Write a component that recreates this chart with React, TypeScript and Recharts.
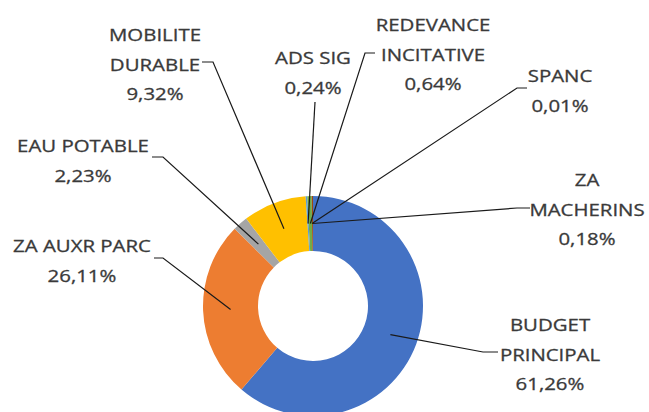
import React from "react";
import { PieChart, Pie, Cell } from "recharts";

const categories = [
  "BUDGET PRINCIPAL",
  "ZA AUXR PARC",
  "EAU POTABLE",
  "MOBILITE DURABLE",
  "ADS SIG",
  "REDEVANCE INCITATIVE",
  "SPANC",
  "ZA MACHERINS",
];
const shares = [61.26, 26.11, 2.23, 9.32, 0.24, 0.64, 0.01, 0.18];
const colors = ["#4472C4", "#ED7D31", "#A5A5A5", "#FFC000", "#5B9BD5", "#70AD47", "#264478", "#9E480E"];

// label layout: text centre x, first baseline y, wrap into words, leader elbow & end
const labelLayout = [
  { x: 550, y: 331, wrap: true, elbow: [483, 352], end: [498, 352] },
  { x: 82, y: 252, wrap: false, elbow: [163, 258], end: [154, 258] },
  { x: 83, y: 152, wrap: false, elbow: [163, 157], end: [152, 157] },
  { x: 155, y: 41, wrap: true, elbow: [213, 62], end: [202, 62] },
  { x: 313, y: 64, wrap: false, elbow: [315, 102], end: [315, 102] },
  { x: 433, y: 31, wrap: true, elbow: [365, 53], end: [375, 53] },
  { x: 560, y: 82, wrap: false, elbow: [517, 88], end: [527, 88] },
  { x: 587, y: 186, wrap: true, elbow: [517, 208], end: [530, 208] },
];

const data = categories.map((name, i) => ({ name, value: shares[i] }));

const RAD = Math.PI / 180;
const LINE_GAP = 29.5;
const FONT = "'Open Sans', sans-serif";

const fmt = (v: number) => v.toFixed(2).replace(".", ",") + "%";

const renderLabel = (props: any) => {
  const { cx, cy, midAngle, innerRadius, outerRadius, index } = props;
  const lay = labelLayout[index];
  const r = (innerRadius + outerRadius) / 2;
  const sx = cx + r * Math.cos(-midAngle * RAD);
  const sy = cy + r * Math.sin(-midAngle * RAD);
  const name = categories[index];
  const lines = lay.wrap ? name.split(" ") : [name];
  lines.push(fmt(shares[index]));
  return (
    <g key={`lbl-${index}`}>
      <polyline
        points={`${sx},${sy} ${lay.elbow[0]},${lay.elbow[1]} ${lay.end[0]},${lay.end[1]}`}
        fill="none"
        stroke="#1a1a1a"
        strokeWidth={1.2}
      />
      {lines.map((t, k) => (
        <text
          key={k}
          transform={`translate(${lay.x} ${lay.y + k * LINE_GAP}) scale(1.2 1)`}
          x={0}
          y={0}
          textAnchor="middle"
          fontFamily={FONT}
          fontSize={17}
          fill="#3a3a3a"
          stroke="#3a3a3a"
          strokeWidth={0.3}
        >
          {t}
        </text>
      ))}
    </g>
  );
};

export default function App() {
  return (
    <div style={{ position: "absolute", left: 0, top: 0, width: 649, height: 412, background: "#fff" }}>
      <PieChart width={649} height={412} margin={{ top: 0, right: 0, bottom: 0, left: 0 }}>
        <Pie
          data={data}
          dataKey="value"
          nameKey="name"
          cx={313}
          cy={306}
          innerRadius={55}
          outerRadius={110}
          startAngle={90}
          endAngle={-270}
          stroke="none"
          label={renderLabel}
          labelLine={false}
          isAnimationActive={false}
        >
          {data.map((d, i) => (
            <Cell key={d.name} fill={colors[i]} />
          ))}
        </Pie>
      </PieChart>
    </div>
  );
}
